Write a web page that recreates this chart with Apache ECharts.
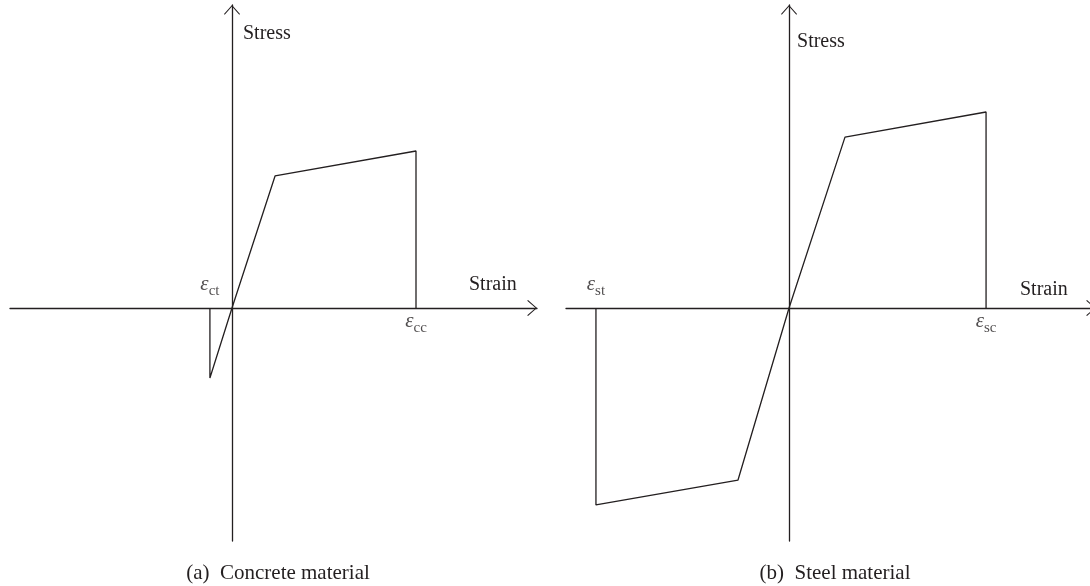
<!DOCTYPE html>
<html>
<head>
<meta charset="utf-8">
<script src="https://cdn.jsdelivr.net/npm/echarts@6/dist/echarts.min.js"></script>
<style>
  html, body { margin: 0; padding: 0; background: #fff; }
  #chart { width: 1090px; height: 586px; }
</style>
</head>
<body>
<div id="chart"></div>
<script>
// Idealised stress–strain laws (normalised units: peak strain = 1, peak stress = 1)

// (a) concrete: tension branch, elastic rise, hardening plateau, crushing drop
const concreteStrain = [-0.12, -0.12, 0, 0.234, 1, 1];
const concreteStress = [0, -0.446, 0, 0.841, 1, 0];

// (b) steel: fracture in tension, hardening, elastic, yield, hardening, fracture
const steelStrain = [-0.98, -0.98, -0.259, 0, 0.284, 1, 1];
const steelStress = [0, -1.005, -0.878, 0, 0.872, 1, 0];

// characteristic strain markers
const concreteMarks = [
  { name: 'ct', strain: -0.12, side: 'top' },
  { name: 'cc', strain: 1, side: 'bottom' }
];
const steelMarks = [
  { name: 'st', strain: -0.98, side: 'top' },
  { name: 'sc', strain: 1, side: 'bottom' }
];

const axisNames = { x: 'Strain', y: 'Stress' };
const captions = ['(a)  Concrete material', '(b)  Steel material'];

const INK = '#231f20';
const SERIF = '"Liberation Serif", "Times New Roman", serif';
// open chevron head, pointing up before rotation
const CHEVRON = 'path://M0,9 L8,0 L16,9 L15.3,9.8 L8,1.4 L0.7,9.8 Z';

function zip(xs, ys) { return xs.map((x, i) => [x, ys[i]]); }

function axisLine() {
  return {
    show: true,
    onZero: true,
    symbol: ['none', CHEVRON],
    symbolSize: [16, 9.8],
    symbolOffset: [0, -4.9],
    lineStyle: { color: INK, width: 1.3 }
  };
}

function plainAxis(extra) {
  return Object.assign({
    type: 'value',
    axisLine: axisLine(),
    axisTick: { show: false },
    axisLabel: { show: false },
    splitLine: { show: false }
  }, extra);
}

const labelRich = {
  e: { fontFamily: SERIF, fontStyle: 'italic', fontSize: 21, color: INK, lineHeight: 25, verticalAlign: 'top' },
  s: { fontFamily: SERIF, fontSize: 15, color: INK, lineHeight: 25, verticalAlign: 'bottom' }
};

function markSeries(marks, idx) {
  return {
    type: 'scatter',
    xAxisIndex: idx,
    yAxisIndex: idx,
    symbolSize: 0,
    silent: true,
    data: marks.map(m => ({
      value: [m.strain, 0],
      label: {
        show: true,
        position: m.side,
        distance: m.side === 'top' ? 9 : 3,
        formatter: '{e|ε}{s|' + m.name + '}',
        rich: labelRich
      }
    }))
  };
}

function curveSeries(xs, ys, idx) {
  return {
    type: 'line',
    xAxisIndex: idx,
    yAxisIndex: idx,
    data: zip(xs, ys),
    symbol: 'none',
    silent: true,
    lineStyle: { color: INK, width: 1.3 },
    z: 3
  };
}

const nameStyle = { fontFamily: SERIF, fontSize: 20, color: INK };

const option = {
  backgroundColor: '#ffffff',
  animation: false,
  title: [
    { text: captions[0], left: 273, top: 558, textAlign: 'center',
      textStyle: { fontFamily: SERIF, fontSize: 21, fontWeight: 'normal', color: INK } },
    { text: captions[1], left: 830, top: 558, textAlign: 'center',
      textStyle: { fontFamily: SERIF, fontSize: 21, fontWeight: 'normal', color: INK } }
  ],
  grid: [
    { left: 10, right: 553, top: 5, bottom: 45, outerBoundsMode: 'none' },
    { left: 566, right: -6, top: 5, bottom: 45, outerBoundsMode: 'none' }
  ],
  xAxis: [
    plainAxis({
      gridIndex: 0, min: -1.2065, max: 1.6576,
      name: axisNames.x, nameLocation: 'end', nameGap: -68,
      nameTextStyle: Object.assign({ align: 'left', verticalAlign: 'bottom', lineHeight: 46 }, nameStyle)
    }),
    plainAxis({
      gridIndex: 1, min: -1.132, max: 1.558,
      name: axisNames.x, nameLocation: 'end', nameGap: -76,
      nameTextStyle: Object.assign({ align: 'left', verticalAlign: 'bottom', lineHeight: 36 }, nameStyle)
    })
  ],
  yAxis: [
    plainAxis({
      gridIndex: 0, min: -1.484, max: 1.93,
      name: axisNames.y, nameLocation: 'end', nameGap: -29,
      nameTextStyle: Object.assign({ align: 'left', verticalAlign: 'middle', padding: [0, 0, 0, 11] }, nameStyle)
    }),
    plainAxis({
      gridIndex: 1, min: -1.189, max: 1.546,
      name: axisNames.y, nameLocation: 'end', nameGap: -37,
      nameTextStyle: Object.assign({ align: 'left', verticalAlign: 'middle', padding: [0, 0, 0, 8] }, nameStyle)
    })
  ],
  series: [
    curveSeries(concreteStrain, concreteStress, 0),
    curveSeries(steelStrain, steelStress, 1),
    markSeries(concreteMarks, 0),
    markSeries(steelMarks, 1)
  ]
};

const chart = echarts.init(document.getElementById('chart'), null, { renderer: 'canvas' });
chart.setOption(option);
</script>
</body>
</html>
